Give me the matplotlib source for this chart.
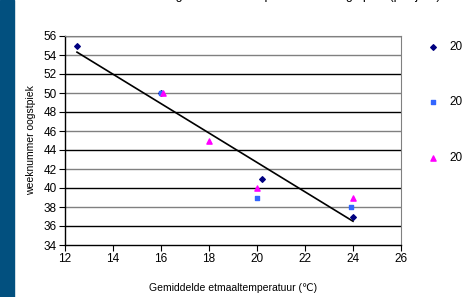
import matplotlib
matplotlib.use("Agg")
import matplotlib.pyplot as plt
from matplotlib.patches import Rectangle

plt.rcParams['font.family'] = ['Liberation Sans', 'DejaVu Sans']

# ─── Data ────────────────────────────────────────────────────────────────────
years = ["2005", "2006", "2007"]
x_a = [12.5, 16.0, 20.2, 24.0]
y_a = [55, 50, 41, 37]
x_b = [16.0, 20.0, 23.9]
y_b = [50, 39, 38]
x_c = [16.1, 18.0, 20.0, 24.0]
y_c = [50, 45, 40, 39]
trend_x = [12.5, 24.0]
trend_y = [54.3, 36.5]
# ─────────────────────────────────────────────────────────────────────────────

fig = plt.figure(figsize=(4.62, 2.97), dpi=100)
fig.patches.append(Rectangle((0, 0), 14 / 462, 1, transform=fig.transFigure,
                             color="#02507f", zorder=0))

ax = fig.add_axes([65 / 462, 1 - 245 / 297, 336 / 462, 209 / 297])

for i, yv in enumerate(range(36, 57, 2)):
    ax.axhline(yv, color="#000000" if i % 2 == 0 else "#808080", lw=1.0, zorder=1)

ax.scatter(x_a, y_a, marker="D", s=8, color="#000080", zorder=3, label=years[0])
ax.scatter(x_b, y_b, marker="s", s=10, color="#3366ff", zorder=3, label=years[1])
ax.scatter(x_c, y_c, marker="^", s=14, color="#ff00ff", zorder=3, label=years[2])
ax.plot(trend_x, trend_y, color="black", lw=1.2, zorder=2)

ax.set_xlim(12, 26)
ax.set_ylim(34, 56)
ax.set_xticks(range(12, 27, 2))
ax.set_yticks(range(34, 57, 2))
ax.tick_params(labelsize=8.5, length=4, width=0.8, direction="out", pad=2)
ax.spines["top"].set_color("#808080")
ax.spines["right"].set_color("#808080")
ax.spines["left"].set_linewidth(1.0)
ax.spines["bottom"].set_linewidth(1.0)

ax.set_xlabel("Gemiddelde etmaaltemperatuur (\u2103)", fontsize=7.5, labelpad=13)
ax.set_ylabel("weeknummer oogstpiek", fontsize=7.5, labelpad=5)

fig.text(0.62, 1.003, "Relatie gemiddelde temperatuur en oogstpiek (per jaar)",
         ha="center", va="baseline", fontsize=9)

ax.legend(loc="upper left", bbox_to_anchor=(1.045, 1.0), frameon=False,
          fontsize=8.5, labelspacing=3.7, handletextpad=0.4, borderaxespad=0)

fig.savefig("out.png", dpi=100)
